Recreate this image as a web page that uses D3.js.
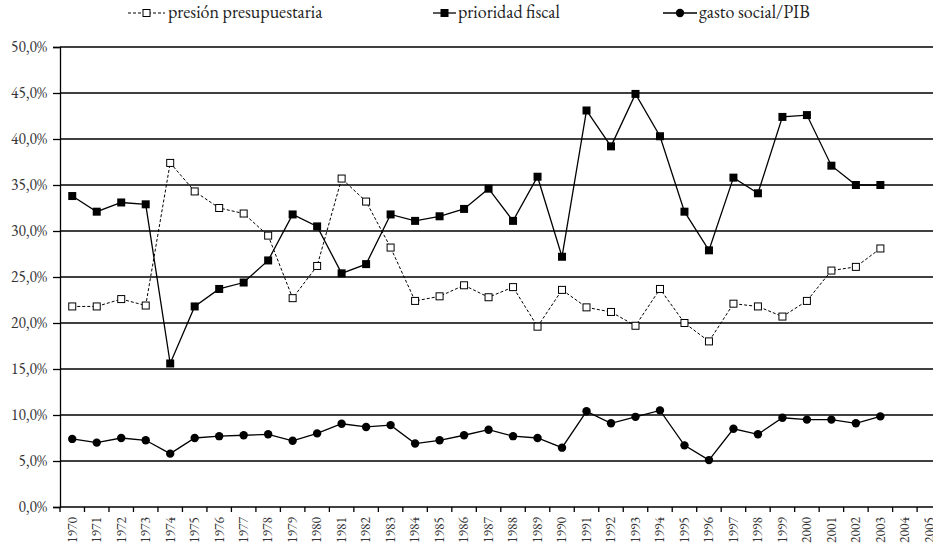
<!DOCTYPE html>
<html>
<head>
<meta charset="utf-8">
<script src="https://cdn.jsdelivr.net/npm/d3@7"></script>
<style>
  body { margin: 0; background: #fff; }
  svg { display: block; }
  text { font-variant-numeric: lining-nums; font-feature-settings: "lnum" 1; }
</style>
</head>
<body>
<svg id="chart" width="933" height="546"></svg>
<script>
const years = d3.range(1970, 2006).map(String);
const presion = [21.8, 21.8, 22.6, 21.9, 37.4, 34.3, 32.5, 31.9, 29.5, 22.7, 26.2, 35.7, 33.2, 28.2, 22.4, 22.9, 24.1, 22.8, 23.9, 19.6, 23.6, 21.7, 21.2, 19.7, 23.7, 20.0, 18.0, 22.1, 21.8, 20.7, 22.4, 25.7, 26.1, 28.1];
const prioridad = [33.8, 32.1, 33.1, 32.9, 15.6, 21.8, 23.7, 24.4, 26.8, 31.8, 30.5, 25.4, 26.4, 31.8, 31.1, 31.6, 32.4, 34.6, 31.1, 35.9, 27.2, 43.1, 39.2, 44.9, 40.3, 32.1, 27.9, 35.8, 34.1, 42.4, 42.6, 37.1, 35.0, 35.0];
const gasto = [7.4, 7.0, 7.5, 7.25, 5.8, 7.5, 7.7, 7.8, 7.9, 7.2, 8.0, 9.05, 8.7, 8.9, 6.9, 7.25, 7.8, 8.4, 7.7, 7.5, 6.45, 10.4, 9.1, 9.8, 10.5, 6.7, 5.1, 8.5, 7.9, 9.7, 9.5, 9.5, 9.1, 9.85];
const yTicks = [0, 5, 10, 15, 20, 25, 30, 35, 40, 45, 50];

const FONT = '"EB Garamond", "Liberation Serif", serif';
const svg = d3.select("#chart");
const plotLeft = 60, plotTop = 47, plotBottom = 507, plotRight = 941.6;

const x = d3.scaleBand().domain(years).range([plotLeft, plotRight]);
const y = d3.scaleLinear().domain([0, 50]).range([plotBottom, plotTop]);
const fmt = v => d3.format(".1f")(v).replace(".", ",") + "%";

// grid lines
svg.append("g")
  .selectAll("line")
  .data(yTicks.slice(1))
  .join("line")
  .attr("x1", plotLeft).attr("x2", plotRight)
  .attr("y1", d => y(d)).attr("y2", d => y(d))
  .attr("stroke", "#000").attr("stroke-width", 1.3);

// y axis
const yAxis = svg.append("g")
  .attr("transform", `translate(${plotLeft},0)`)
  .call(d3.axisLeft(y).tickValues(yTicks).tickFormat(fmt).tickSize(7).tickPadding(6));
yAxis.select(".domain").attr("stroke-width", 1.3);
yAxis.selectAll("line").attr("stroke-width", 1.3);
yAxis.selectAll("text").style("font-family", FONT).style("font-size", "15.5px").attr("fill", "#333");

// x axis, labels centred in bands, ticks on band edges
const xAxis = svg.append("g")
  .attr("transform", `translate(0,${plotBottom})`)
  .call(d3.axisBottom(x).tickSize(0));
xAxis.select(".domain").attr("d", `M${plotLeft},0H${plotRight}`).attr("stroke-width", 1.3);
xAxis.selectAll("text")
  .style("font-family", FONT).style("font-size", "13.5px").attr("fill", "#333")
  .attr("transform", "rotate(-90)")
  .attr("text-anchor", "end")
  .attr("x", -10).attr("y", 0).attr("dy", "0.32em");
svg.append("g")
  .selectAll("line")
  .data(d3.range(years.length + 1))
  .join("line")
  .attr("x1", i => plotLeft + i * x.step()).attr("x2", i => plotLeft + i * x.step())
  .attr("y1", plotBottom).attr("y2", plotBottom + 5)
  .attr("stroke", "#000").attr("stroke-width", 1.3);

const cx = i => x(years[i]) + x.bandwidth() / 2;
const line = d3.line().x((d, i) => cx(i)).y(d => y(d));

// series
svg.append("path").datum(presion).attr("d", line)
  .attr("fill", "none").attr("stroke", "#000").attr("stroke-width", 1).attr("stroke-dasharray", "3,2");
svg.append("path").datum(prioridad).attr("d", line)
  .attr("fill", "none").attr("stroke", "#000").attr("stroke-width", 1.3);
svg.append("path").datum(gasto).attr("d", line)
  .attr("fill", "none").attr("stroke", "#000").attr("stroke-width", 1.3);

svg.append("g").selectAll("rect").data(presion).join("rect")
  .attr("x", (d, i) => cx(i) - 3.5).attr("y", d => y(d) - 3.5)
  .attr("width", 7).attr("height", 7)
  .attr("fill", "#fff").attr("stroke", "#000").attr("stroke-width", 1);
svg.append("g").selectAll("rect").data(prioridad).join("rect")
  .attr("x", (d, i) => cx(i) - 4).attr("y", d => y(d) - 4)
  .attr("width", 8).attr("height", 8).attr("fill", "#000");
svg.append("g").selectAll("circle").data(gasto).join("circle")
  .attr("cx", (d, i) => cx(i)).attr("cy", d => y(d)).attr("r", 4.2).attr("fill", "#000");

// legend
const legend = [
  { name: "presión presupuestaria", x0: 128, x1: 165, tx: 168, kind: "open" },
  { name: "prioridad fiscal", x0: 433, x1: 456, tx: 458, kind: "square" },
  { name: "gasto social/PIB", x0: 663, x1: 697, tx: 699, kind: "circle" }
];
const ly = 13;
const lg = svg.append("g").selectAll("g").data(legend).join("g");
lg.append("line")
  .attr("x1", d => d.x0).attr("x2", d => d.x1).attr("y1", ly).attr("y2", ly)
  .attr("stroke", "#000")
  .attr("stroke-width", d => d.kind === "open" ? 1 : 1.3)
  .attr("stroke-dasharray", d => d.kind === "open" ? "3,2" : null);
lg.each(function (d) {
  const g = d3.select(this), m = (d.x0 + d.x1) / 2;
  if (d.kind === "open") {
    g.append("rect").attr("x", m - 3.5).attr("y", ly - 3.5).attr("width", 7).attr("height", 7)
      .attr("fill", "#fff").attr("stroke", "#000");
  } else if (d.kind === "square") {
    g.append("rect").attr("x", m - 4).attr("y", ly - 4).attr("width", 8).attr("height", 8).attr("fill", "#000");
  } else {
    g.append("circle").attr("cx", m).attr("cy", ly).attr("r", 4.2).attr("fill", "#000");
  }
});
lg.append("text")
  .attr("x", d => d.tx).attr("y", 17.5)
  .style("font-family", FONT).style("font-size", "18px").attr("fill", "#222")
  .text(d => d.name);
</script>
</body>
</html>
